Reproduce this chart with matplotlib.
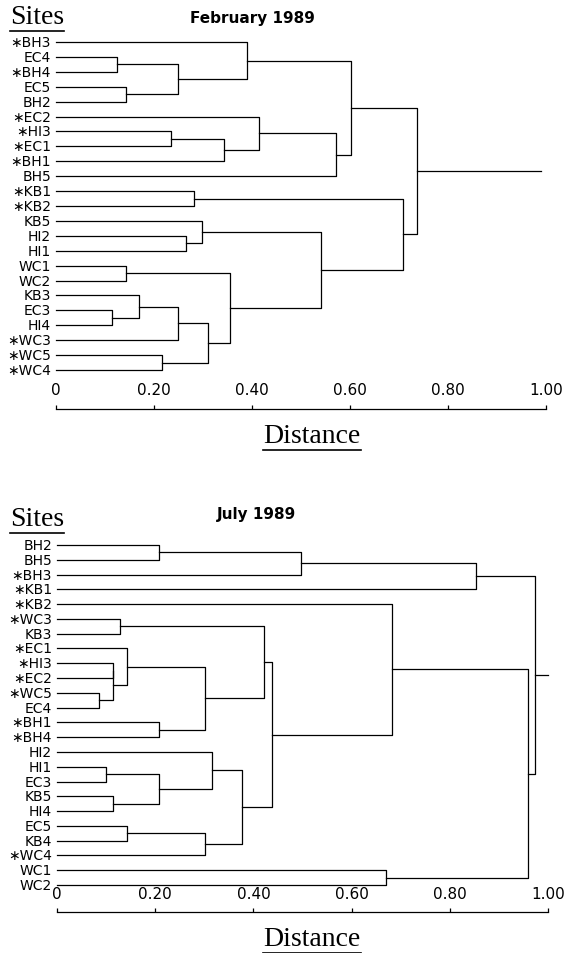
import matplotlib
matplotlib.use("Agg")
import matplotlib.pyplot as plt
import matplotlib.transforms as mtransforms
from matplotlib.lines import Line2D

W, H = 566, 954

# February 1989 -- leaves top to bottom, merges as (left, right, distance);
# an int refers to an earlier merge in the list
feb_leaves = ['*BH3', 'EC4', '*BH4', 'EC5', 'BH2', '*EC2', '*HI3', '*EC1', '*BH1', 'BH5',
              '*KB1', '*KB2', 'KB5', 'HI2', 'HI1', 'WC1', 'WC2', 'KB3', 'EC3', 'HI4',
              '*WC3', '*WC5', '*WC4']
feb_merges = [
    ('EC4', '*BH4', 0.124),   # 0
    ('EC5', 'BH2', 0.143),    # 1
    (0, 1, 0.249),            # 2
    ('*BH3', 2, 0.390),       # 3
    ('*HI3', '*EC1', 0.235),  # 4
    (4, '*BH1', 0.343),       # 5
    ('*EC2', 5, 0.414),       # 6
    (6, 'BH5', 0.571),        # 7
    (3, 7, 0.602),            # 8
    ('*KB1', '*KB2', 0.282),  # 9
    ('HI2', 'HI1', 0.265),    # 10
    ('KB5', 10, 0.298),       # 11
    ('WC1', 'WC2', 0.143),    # 12
    ('EC3', 'HI4', 0.114),    # 13
    ('KB3', 13, 0.169),       # 14
    (14, '*WC3', 0.249),      # 15
    ('*WC5', '*WC4', 0.216),  # 16
    (15, 16, 0.310),          # 17
    (12, 17, 0.355),          # 18
    (11, 18, 0.541),          # 19
    (9, 19, 0.708),           # 20
    (8, 20, 0.737),           # 21
]
feb_root_end = 0.99

# July 1989
jul_leaves = ['BH2', 'BH5', '*BH3', '*KB1', '*KB2', '*WC3', 'KB3', '*EC1', '*HI3', '*EC2',
              '*WC5', 'EC4', '*BH1', '*BH4', 'HI2', 'HI1', 'EC3', 'KB5', 'HI4', 'EC5',
              'KB4', '*WC4', 'WC1', 'WC2']
jul_merges = [
    ('BH2', 'BH5', 0.208),    # 0
    (0, '*BH3', 0.497),       # 1
    (1, '*KB1', 0.853),       # 2
    ('*WC3', 'KB3', 0.128),   # 3
    ('*WC5', 'EC4', 0.086),   # 4
    ('*HI3', '*EC2', 0.114),  # 5
    (5, 4, 0.114),            # 6
    ('*EC1', 6, 0.143),       # 7
    ('*BH1', '*BH4', 0.208),  # 8
    (7, 8, 0.301),            # 9
    (3, 9, 0.421),            # 10
    ('HI1', 'EC3', 0.100),    # 11
    ('KB5', 'HI4', 0.114),    # 12
    (11, 12, 0.208),          # 13
    ('HI2', 13, 0.316),       # 14
    ('EC5', 'KB4', 0.143),    # 15
    (15, '*WC4', 0.301),      # 16
    (14, 16, 0.377),          # 17
    (10, 17, 0.438),          # 18
    ('*KB2', 18, 0.682),      # 19
    ('WC1', 'WC2', 0.670),    # 20
    (19, 20, 0.959),          # 21
    (2, 21, 0.974),           # 22
]
jul_root_end = 1.0

dist_ticks = [0, 0.2, 0.4, 0.6, 0.8, 1.0]
dist_labels = ['0', '0.20', '0.40', '0.60', '0.80', '1.00']

LW = 0.9
SANS = 'DejaVu Sans'
SERIF = 'Liberation Serif'

fig = plt.figure(figsize=(W / 100, H / 100), dpi=100)
fig.patch.set_facecolor('white')


def underline(t, gap=1.0):
    fig.canvas.draw()
    bb = t.get_window_extent()
    y = (bb.y0 - gap) / fig.bbox.height
    fig.add_artist(Line2D([bb.x0 / fig.bbox.width, bb.x1 / fig.bbox.width], [y, y],
                          transform=fig.transFigure, color='black', lw=1.2))


def panel(leaves, merges, root_end, x0, x1, y_first, y_last, bar_y, label_y,
          title, title_xy, sites_y, dist_y):
    n = len(leaves)
    sp = (y_last - y_first) / (n - 1)
    ax = fig.add_axes([x0 / W, 1 - (y_last + sp / 2) / H, (x1 - x0) / W, (n * sp) / H])
    ax.set_xlim(0, 1)
    ax.set_ylim(n - 0.5, -0.5)
    ax.axis('off')

    pos = {name: (0.0, i) for i, name in enumerate(leaves)}
    for k, (a, b, h) in enumerate(merges):
        xa, ya = pos[a]
        xb, yb = pos[b]
        ax.plot([xa, h, h, xb], [ya, ya, yb, yb], color='black', lw=LW, clip_on=False)
        pos[k] = (h, (ya + yb) / 2)
    xr, yr = pos[len(merges) - 1]
    ax.plot([xr, root_end], [yr, yr], color='black', lw=LW, clip_on=False)

    off = ax.transData + mtransforms.ScaledTranslation(-5 / 100, 0, fig.dpi_scale_trans)
    for i, name in enumerate(leaves):
        ax.text(0, i, name.replace('*', '\u2217'), transform=off, ha='right', va='center',
                fontsize=10, family=SANS)

    # distance scale bar
    h_ax = 6
    sax = fig.add_axes([x0 / W, 1 - bar_y / H, (x1 - x0) / W, h_ax / H])
    sax.set_facecolor('none')
    for s in ['top', 'left', 'right']:
        sax.spines[s].set_visible(False)
    sax.spines['bottom'].set_linewidth(LW)
    sax.set_xlim(0, 1)
    sax.set_yticks([])
    sax.set_xticks(dist_ticks)
    sax.set_xticklabels(dist_labels, fontsize=11, family=SANS)
    pad_px = (bar_y - h_ax) - label_y - 6
    sax.tick_params(axis='x', direction='in', length=3, width=LW, bottom=True, top=False,
                    labelbottom=False, labeltop=True, pad=pad_px * 0.72)

    fig.text(title_xy[0] / W, 1 - title_xy[1] / H, title, ha='center', va='center',
             fontsize=11, fontweight='bold', family=SANS)
    t = fig.text(37 / W, 1 - sites_y / H, 'Sites', ha='center', va='center',
                 fontsize=20, family=SERIF)
    underline(t)
    d = fig.text(312 / W, 1 - dist_y / H, 'Distance', ha='center', va='center',
                 fontsize=20, family=SERIF)
    underline(d)


panel(feb_leaves, feb_merges, feb_root_end, 56, 546, 43, 371, 410, 392,
      'February 1989', (252, 18), 18, 437)
panel(jul_leaves, jul_merges, jul_root_end, 57, 548, 546, 886, 913, 896,
      'July 1989', (256, 515), 520, 940)

fig.savefig('out.png', dpi=100)
